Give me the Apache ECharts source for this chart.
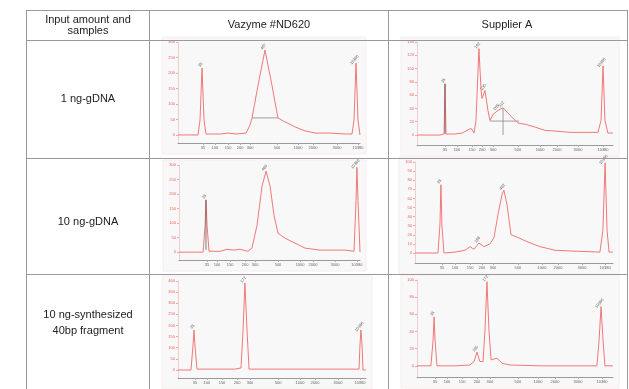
<!DOCTYPE html>
<html><head><meta charset="utf-8">
<script src="https://cdn.jsdelivr.net/npm/echarts@6/dist/echarts.min.js"></script>
<style>html,body{margin:0;padding:0;background:#fff}#c{width:629px;height:389px;filter:blur(0.4px)}</style>
</head><body><div id="c"></div>
<script>
// ---------- DATA ----------
const columnTitles = ['Vazyme #ND620', 'Supplier A'];
const headerFirst = ['Input amount and', 'samples'];
const rowLabels = [['1 ng-gDNA'], ['10 ng-gDNA'], ['10 ng-synthesized', '40bp fragment']];
const bpLabels = ['35', '100', '150', '200', '300', '500', '1000', '2000', '3000', '10380'];

// traces: [migration position (0-100), fluorescence]
const traceA1 = [[0,0],[11,0],[12.1,48],[13.2,216],[14.3,48],[15.4,3],[23.1,3],[27.5,6],[31.9,3],[37.4,6],[39.6,32],[40.7,55],[44,161],[47.8,274],[51.6,161],[54.9,55],[58.8,42],[64.3,26],[69.8,13],[75.3,6],[83.5,6],[91.8,3],[95.6,3],[96.7,48],[97.8,232],[98.9,48],[100,0]];
const traceB1 = [[0,0],[11.7,0],[13.8,1.5],[14.3,77],[14.8,1.5],[19.4,1.5],[23,3],[25.5,7],[27.6,10],[29.1,3],[30.1,22],[31.6,130],[32.7,67],[33.2,55],[34.7,67],[36.2,37],[37.2,22],[38.8,31],[41.3,37],[43.9,41],[47.4,30],[51.5,18],[55.6,16],[60.2,12],[65.3,7],[70.4,6],[78.1,4],[92.3,4],[93.9,22],[94.9,104],[95.9,22],[97.4,3],[100,3]];
const traceA2 = [[0,0],[13.3,0],[14.4,92],[14.9,180],[15.5,92],[16.6,3],[22.7,3],[26.5,10],[30.4,7],[33.7,10],[38.1,3],[40.3,14],[43.1,92],[45.9,228],[48.1,279],[50.3,228],[52.5,126],[54.7,65],[58.6,48],[64.1,31],[69.6,14],[77.9,7],[91.7,7],[96.7,3],[97.8,177],[98.3,292],[98.9,177],[100,0]];
const traceB2 = [[0,0],[11.6,0],[12.6,31],[13.1,75],[13.6,31],[14.6,0],[20.2,1],[25.3,3],[27.8,7],[29.8,4],[32.3,11],[34.8,7],[37.9,10],[39.9,17],[41.9,42],[43.9,64],[44.9,69],[46.5,53],[48.5,20],[52,17],[57.1,12],[63.1,7],[70.7,3],[80.8,2],[93.4,1],[94.9,25],[96,99],[97,25],[98,1],[100,1]];
const traceA3 = [[0,0],[6.9,0],[8,112],[8.5,180],[9,112],[10.1,4],[19.7,4],[30.3,4],[33.5,9],[34.6,180],[35.6,391],[36.7,180],[37.8,4],[48.9,4],[64.9,4],[86.2,4],[96.3,4],[96.8,112],[97.3,180],[97.9,112],[98.4,0],[100,0]];
const traceB3 = [[0,0],[7.1,0],[8.2,30],[8.7,57],[9.2,30],[10.2,0],[19.4,0],[27,1],[29.1,5],[30.6,16],[32.1,5],[33.7,5],[34.7,42],[35.7,98],[36.7,42],[37.8,7],[40.8,9],[43.4,3],[47.4,1],[62.8,0],[91.8,0],[92.9,30],[93.9,69],[94.9,30],[95.9,0],[100,0]];

// x tick positions (migration position of each bp label)
const ticksA1 = [13.7,20.3,27.5,34.1,39.6,54.4,65.9,74.2,87.4,98.9];
const ticksB1 = [14.3,20.4,28.1,33.2,38.8,51.5,62.8,71.4,82.1,94.9];
const ticksA2 = [15.5,21,28.2,36.5,42,54.7,66.9,74,86.2,98.3];
const ticksB2 = [13.6,20.2,27.8,33.8,39.4,52,64.1,72.2,84.3,96];
const ticksA3 = [9,15.4,23.4,31.4,38.3,53.2,64.9,72.9,85.1,96.8];
const ticksB3 = [9.2,15.3,23,30.6,37.2,51.5,61.7,70.4,82.1,94.4];

// y ticks (FU)
const yTicksA1 = [0,50,100,150,200,250,300];
const yTicksB1 = [0,20,40,60,80,100,120,140];
const yTicksA2 = [0,50,100,150,200,250,300];
const yTicksB2 = [0,10,20,30,40,50,60,70,80,90,100];
const yTicksA3 = [0,50,100,150,200,250,300,350,400];
const yTicksB3 = [0,20,40,60,80,100];

// peak labels [position, fluorescence, size]
const peaksA1 = [[13.2,216,'35'],[47.8,274,'497'],[97.8,232,'10380']];
const peaksB1 = [[14.3,77,'35'],[31.6,130,'192'],[34.7,67,'230'],[41.3,37,'285'],[43.9,41,'312'],[94.9,104,'10380']];
const peaksA2 = [[14.9,180,'35'],[48.1,279,'486'],[98.3,292,'10380']];
const peaksB2 = [[13.1,75,'35'],[32.3,11,'188'],[44.9,69,'482'],[96,99,'10380']];
const peaksA3 = [[8.5,180,'35'],[35.6,391,'172'],[97.3,180,'10380']];
const peaksB3 = [[8.7,57,'35'],[30.6,16,'150'],[35.7,98,'172'],[93.9,69,'10380']];

// region (smear) lines and dark marker lines
const regionA1 = [[40.7,55],[54.9,55]];
const regionB1 = [[37.2,21],[52,21]];
const regionB1v = [[43.9,0],[43.9,41]];
const markerB1 = [[14.3,2],[14.3,77]];
const markerA2 = [[14.9,8],[14.9,180]];

// ---------- LAYOUT ----------
const panels = [
  {trace: traceA1, ticks: ticksA1, yTicks: yTicksA1, peaks: peaksA1, extra: [regionA1], dark: [], g: {left:178, top:42, width:182, height:101}, ymin:-26, ymax:300},
  {trace: traceB1, ticks: ticksB1, yTicks: yTicksB1, peaks: peaksB1, extra: [regionB1, regionB1v], dark: [markerB1], g: {left:417, top:42, width:196, height:103}, ymin:-15, ymax:140},
  {trace: traceA2, ticks: ticksA2, yTicks: yTicksA2, peaks: peaksA2, extra: [], dark: [markerA2], g: {left:179, top:165, width:181, height:95}, ymin:-27, ymax:300},
  {trace: traceB2, ticks: ticksB2, yTicks: yTicksB2, peaks: peaksB2, extra: [], dark: [], g: {left:415, top:162, width:198, height:101}, ymin:-11, ymax:100},
  {trace: traceA3, ticks: ticksA3, yTicks: yTicksA3, peaks: peaksA3, extra: [], dark: [], g: {left:178, top:281, width:188, height:97}, ymin:-36, ymax:400},
  {trace: traceB3, ticks: ticksB3, yTicks: yTicksB3, peaks: peaksB3, extra: [], dark: [], g: {left:417, top:280, width:196, height:97}, ymin:-13, ymax:100}
];

const FONT = '"Liberation Sans", Arial, sans-serif';
const RED = '#f07878';
const grid = [], xAxis = [], yAxis = [], series = [], graphic = [];

panels.forEach((p, i) => {
  graphic.push({type:'rect', z:-10, shape:{x:p.g.left-16, y:p.g.top-5, width:p.g.width+22, height:p.g.height+16},
    style:{fill:'#f9f8f8', stroke:'#f8ecec', lineWidth:1}});
  grid.push(p.g);
  xAxis.push({type:'value', gridIndex:i, min:0, max:100, splitLine:{show:false},
    axisLine:{show:true, onZero:false, lineStyle:{color:'#9a9a9a', width:1}},
    axisTick:{show:true, customValues:p.ticks, length:2, lineStyle:{color:'#aaa'}},
    axisLabel:{show:true, customValues:p.ticks, fontSize:4, color:'#666', margin:3, fontFamily:FONT,
      formatter: v => { const k = p.ticks.findIndex(t => Math.abs(t - v) < 0.01); return k >= 0 ? bpLabels[k] : ''; }}});
  yAxis.push({type:'value', gridIndex:i, min:p.ymin, max:p.ymax, splitLine:{show:false},
    axisLine:{show:true, lineStyle:{color:'#f4cccc', width:1}},
    axisTick:{show:true, customValues:p.yTicks, length:2, lineStyle:{color:'#f0a8a8'}},
    axisLabel:{show:true, customValues:p.yTicks, fontSize:4, color:'#e86060', margin:3, fontFamily:FONT}});
  series.push({type:'line', xAxisIndex:i, yAxisIndex:i, data:p.trace, symbol:'none', silent:true,
    lineStyle:{color:RED, width:1}, z:3});
  p.extra.forEach(d => series.push({type:'line', xAxisIndex:i, yAxisIndex:i, data:d, symbol:'none', silent:true,
    lineStyle:{color:'#888', width:0.8}, z:2}));
  p.dark.forEach(d => series.push({type:'line', xAxisIndex:i, yAxisIndex:i, data:d, symbol:'none', silent:true,
    lineStyle:{color:'#555', width:0.8}, z:4}));
  series.push({type:'scatter', xAxisIndex:i, yAxisIndex:i, data:p.peaks, symbolSize:0, silent:true,
    label:{show:true, position:'top', distance:2, rotate:50, fontSize:4, color:'#333', fontFamily:FONT,
      formatter: prm => prm.data[2]}, z:5});
});

// table lines
const L = '#999';
const hl = (y, x1, x2) => ({type:'line', z:10, shape:{x1:x1, y1:y, x2:x2, y2:y}, style:{stroke:L, lineWidth:1}});
const vl = (x, y1, y2) => ({type:'line', z:10, shape:{x1:x, y1:y1, x2:x, y2:y2}, style:{stroke:L, lineWidth:1}});
graphic.push(hl(10.5, 26.5, 627.5), hl(40.5, 26.5, 627.5), hl(158.5, 26.5, 627.5), hl(274.5, 26.5, 627.5));
graphic.push(vl(26.5, 10, 389), vl(149.5, 10, 389), vl(388.5, 10, 389), vl(627.5, 10, 389));

// texts
const txt = (x, y, s) => ({type:'text', z:11, x:x, y:y, style:{text:s, fill:'#222', font:'11px ' + FONT, align:'center', verticalAlign:'middle'}});
graphic.push(txt(88, 20, headerFirst[0]), txt(88, 31, headerFirst[1]));
graphic.push(txt(269, 25, columnTitles[0]), txt(507, 25, columnTitles[1]));
graphic.push(txt(88, 99, rowLabels[0][0]), txt(88, 222, rowLabels[1][0]));
graphic.push(txt(88, 315, rowLabels[2][0]), txt(88, 331, rowLabels[2][1]));

const chart = echarts.init(document.getElementById('c'), null, {renderer:'canvas'});
chart.setOption({animation:false, backgroundColor:'#fff', grid, xAxis, yAxis, series, graphic});
</script></body></html>
